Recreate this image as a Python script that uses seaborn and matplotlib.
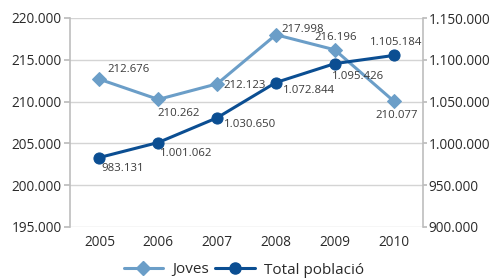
import matplotlib
matplotlib.use("Agg")
import matplotlib.pyplot as plt
import seaborn as sns
import pandas as pd

years = ["2005", "2006", "2007", "2008", "2009", "2010"]
joves = [212676, 210262, 212123, 217998, 216196, 210077]
total = [983131, 1001062, 1030650, 1072844, 1095426, 1105184]
left_ticks = [195000, 200000, 205000, 210000, 215000, 220000]
right_ticks = [900000, 950000, 1000000, 1050000, 1100000, 1150000]

def fmt(v):
    return f"{v:,}".replace(",", ".")

sns.set_theme(style="white")
plt.rcParams["font.family"] = ["Open Sans", "DejaVu Sans"]

c_j = "#6b9ec8"
c_t = "#0b4e92"
grid_c = "#d4d4d4"
spine_c = "#bdbdbd"
txt_c = "#2a2a2a"

df = pd.DataFrame({"year": years, "Joves": joves, "Total": total})

fig = plt.figure(figsize=(4.97, 2.80), dpi=100)
ax = fig.add_axes([70/497, 1-227/280, (423-70)/497, (227-18)/280])
ax2 = ax.twinx()

sns.lineplot(data=df, x="year", y="Joves", ax=ax, color=c_j, marker="D",
             markersize=7.5, linewidth=2.2, markeredgecolor=c_j, zorder=3, sort=False)
sns.lineplot(data=df, x="year", y="Total", ax=ax2, color=c_t, marker="o",
             markersize=8, linewidth=2.2, markeredgecolor=c_t, zorder=3, sort=False)

ax.set_xlim(-0.5, 5.5)
ax.set_ylim(195000, 220000)
ax2.set_ylim(900000, 1150000)
ax.set_yticks(left_ticks)
ax.set_yticklabels([fmt(v) for v in left_ticks])
ax2.set_yticks(right_ticks)
ax2.set_yticklabels([fmt(v) for v in right_ticks])
ax.set_xlabel("")
ax.set_ylabel("")
ax2.set_ylabel("")
ax.grid(axis="y", color=grid_c, linewidth=1)
ax.set_axisbelow(True)

for a in (ax, ax2):
    for s in ("top", "bottom"):
        a.spines[s].set_visible(False)
    a.spines["left"].set_color(spine_c)
    a.spines["right"].set_color(spine_c)
    a.spines["left"].set_linewidth(1.2)
    a.spines["right"].set_linewidth(1.2)
ax.spines["right"].set_visible(False)
ax2.spines["left"].set_visible(False)

ax.tick_params(axis="y", length=4, color=spine_c, labelsize=9.8, labelcolor=txt_c, pad=2, left=True)
ax.tick_params(axis="x", length=0, labelsize=9.8, labelcolor=txt_c, pad=6)
ax2.tick_params(axis="y", length=3, color=spine_c, labelsize=9.8, labelcolor=txt_c, pad=1, right=True)

# data labels: (dx, dy, ha)
j_off = [(8, 10, "left"), (-1, -14, "left"), (6, -2, "left"), (6, 5, "left"), (1, 12, "center"), (3, -15, "center")]
t_off = [(2, -11, "left"), (2, -11, "left"), (7, -7, "left"), (7, -8, "left"), (-3, -13, "left"), (3, 13, "center")]
lab_kw = dict(textcoords="offset pixels", fontsize=8.2, color="#3a3a3a", va="center")
for i, v in enumerate(joves):
    dx, dy, ha = j_off[i]
    ax.annotate(fmt(v), (i, v), xytext=(dx, dy), ha=ha, **lab_kw, zorder=5)
for i, v in enumerate(total):
    dx, dy, ha = t_off[i]
    ax2.annotate(fmt(v), (i, v), xytext=(dx, dy), ha=ha, **lab_kw, zorder=5)

from matplotlib.lines import Line2D
handles = [Line2D([], [], color=c_j, marker="D", markersize=7.5, linewidth=2.2),
           Line2D([], [], color=c_t, marker="o", markersize=8, linewidth=2.2)]
fig.legend(handles, ["Joves", "Total població"], loc="center", bbox_to_anchor=(244/497, 1-270/280),
           ncol=2, frameon=False, fontsize=11, handlelength=2.6, columnspacing=0.4,
           handletextpad=0.6, labelcolor=txt_c)

fig.savefig("out.png", dpi=100)
